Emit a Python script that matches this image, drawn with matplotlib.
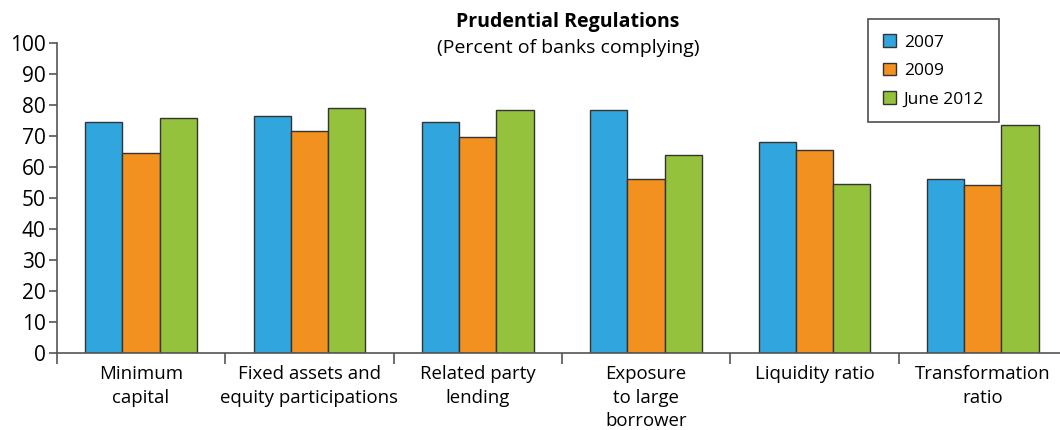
import numpy as np
import matplotlib.pyplot as plt
from matplotlib.ticker import FixedLocator

plt.rcParams['font.family'] = ['Open Sans', 'DejaVu Sans']

# percent of banks complying, per regulation
categories = [
    "Minimum\ncapital",
    "Fixed assets and\nequity participations",
    "Related party\nlending",
    "Exposure\nto large\nborrower",
    "Liquidity ratio",
    "Transformation\nratio",
]
y2007 = [74.3, 76.3, 74.3, 78.3, 68.1, 55.9]
y2009 = [64.5, 71.5, 69.7, 55.9, 65.3, 54.0]
y2012 = [75.6, 79.0, 78.3, 63.8, 54.3, 73.5]
series_labels = ["2007", "2009", "June 2012"]
colors = ["#31A6DE", "#F39120", "#95C23D"]

fig = plt.figure(figsize=(10.6, 4.3), dpi=100)
ax = fig.add_axes([0.0536, 0.1798, 0.953, 0.7209])

x = np.arange(len(categories))
w = 0.221
for i, (vals, lab, col) in enumerate(zip([y2007, y2009, y2012], series_labels, colors)):
    ax.bar(x + (i - 1) * w, vals, width=w, color=col, edgecolor="#333333",
           linewidth=1.0, label=lab)

ax.set_xlim(-0.5, 5.5)
ax.set_ylim(0, 100)
ax.set_yticks(range(0, 101, 10))
ax.tick_params(axis="y", labelsize=15, length=6, color="#555555", width=1.2, pad=2)

# category labels on the centres, tick marks on the boundaries
ax.set_xticks(x)
ax.set_xticklabels(categories, fontsize=13.4, linespacing=1.38, va="top")
ax.tick_params(axis="x", which="major", length=0, pad=9)
ax.xaxis.set_minor_locator(FixedLocator(np.arange(-0.5, 6, 1.0)))
ax.tick_params(axis="x", which="minor", length=8, color="#555555", width=1.2)

for s in ["top", "right"]:
    ax.spines[s].set_visible(False)
for s in ["left", "bottom"]:
    ax.spines[s].set_color("#555555")
    ax.spines[s].set_linewidth(1.2)

fig.text(0.536, 0.95, "Prudential Regulations", ha="center", va="center",
         fontsize=14, fontweight="bold")
fig.text(0.536, 0.888, "(Percent of banks complying)", ha="center", va="center",
         fontsize=14)

leg = fig.legend(loc="upper left", bbox_to_anchor=(0.819, 0.955), fontsize=12.5,
                 frameon=True, fancybox=False, edgecolor="#222222",
                 handlelength=0.75, handleheight=0.75, handletextpad=0.45,
                 labelspacing=0.7, borderpad=0.85, borderaxespad=0)
leg.get_frame().set_linewidth(1.2)

fig.savefig("out.png", dpi=100)
